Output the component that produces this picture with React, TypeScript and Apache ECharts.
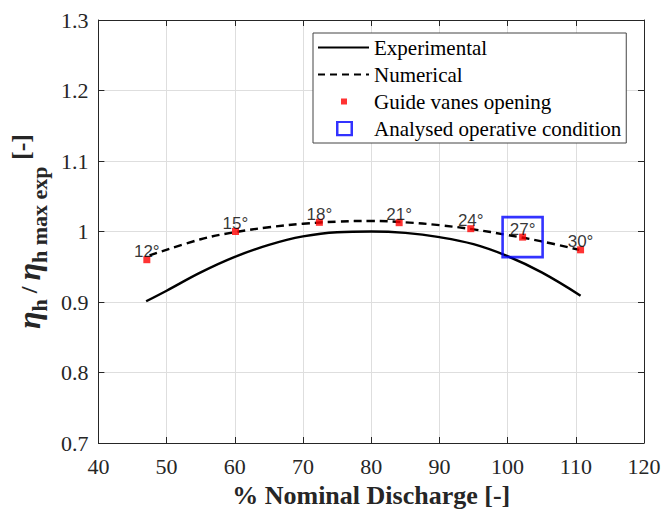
import React, { useEffect, useRef } from "react";
import * as echarts from "echarts";

const expX = [47, 50, 55, 60, 65, 70, 75, 80, 85, 90, 95, 100, 105, 110.7];
const expY = [0.901, 0.916, 0.942, 0.964, 0.981, 0.993, 0.999, 1.0, 0.998, 0.992, 0.982, 0.965, 0.942, 0.909];

const numX = [47.5, 55, 60, 65, 70, 75, 80, 85, 90, 95, 100, 105, 110.5];
const numY = [0.966, 0.989, 0.999, 1.006, 1.011, 1.014, 1.015, 1.013, 1.009, 1.003, 0.995, 0.986, 0.974];

const gvX = [47.1, 60.1, 72.4, 84.1, 94.6, 102.2, 110.7];
const gvY = [0.96, 1.0, 1.013, 1.0125, 1.004, 0.992, 0.974];
const gvLabels = ["12°", "15°", "18°", "21°", "24°", "27°", "30°"];

const opX = [102.2];
const opY = [0.992];

const xTicks = { min: 40, max: 120, interval: 10 };
const yTicks = { min: 0.7, max: 1.3, interval: 0.1 };

const SERIF = "Liberation Serif";
const SANS = "Liberation Sans";
const AX = "#262626";

const svgUri = (inner: string) =>
  "image://data:image/svg+xml;charset=utf-8," +
  encodeURIComponent(
    `<svg xmlns='http://www.w3.org/2000/svg' width='51' height='16' viewBox='0 0 51 16'>${inner}</svg>`
  );

const solidIcon = svgUri("<line x1='0' y1='8' x2='51' y2='8' stroke='#000' stroke-width='2.2'/>");
const dashIcon = svgUri(
  "<line x1='0' y1='8' x2='51' y2='8' stroke='#000' stroke-width='2.2' stroke-dasharray='7 5'/>"
);
const redIcon = svgUri("<rect x='23' y='5' width='6' height='6' fill='#ff0000'/>");
const blueIcon = svgUri(
  "<rect x='19.25' y='1.25' width='14.5' height='13.5' fill='none' stroke='#0000ff' stroke-width='2.5'/>"
);

export default function App() {
  const ref = useRef<HTMLDivElement>(null);
  useEffect(() => {
    if (!ref.current) return;
    const chart = echarts.init(ref.current, null, { renderer: "svg" });
    const axisCommon = {
      axisLine: { show: true, onZero: false, lineStyle: { color: AX, width: 1 } },
      axisTick: { show: true, inside: true, length: 6, lineStyle: { color: AX } },
    };
    const tickLabel = (margin: number) => ({
      fontFamily: SERIF,
      fontSize: 22,
      color: AX,
      margin,
    });
    const richBase = { fontFamily: SERIF, color: AX, lineHeight: 42 };
    chart.setOption({
      animation: false,
      backgroundColor: "#ffffff",
      textStyle: { fontFamily: SERIF },
      grid: { left: 92, right: 21, top: 20, bottom: 66, containLabel: false },
      legend: {
        orient: "vertical",
        left: 313,
        top: 33,
        padding: [4, 5, 4, 5],
        itemGap: 6,
        itemWidth: 51,
        itemHeight: 16,
        itemTextGap: 4,
        borderColor: "#444",
        borderWidth: 1,
        backgroundColor: "#ffffff",
        textStyle: { fontFamily: SERIF, fontSize: 21, color: "#000" },
        data: [
          { name: "Experimental", icon: solidIcon },
          { name: "Numerical", icon: dashIcon },
          { name: "Guide vanes opening", icon: redIcon },
          { name: "Analysed operative condition", icon: blueIcon },
        ],
      },
      xAxis: [
        {
          type: "value",
          position: "bottom",
          ...xTicks,
          ...axisCommon,
          axisLabel: tickLabel(12),
          splitLine: { show: true, lineStyle: { color: "#dedede", width: 1 } },
          name: "% Nominal Discharge [-]",
          nameLocation: "middle",
          nameGap: 39,
          nameTextStyle: { fontFamily: SERIF, fontWeight: "bold", fontSize: 26, color: AX },
        },
        {
          type: "value",
          position: "top",
          ...xTicks,
          ...axisCommon,
          axisLabel: { show: false },
          splitLine: { show: false },
        },
      ],
      yAxis: [
        {
          type: "value",
          position: "left",
          ...yTicks,
          ...axisCommon,
          axisLabel: tickLabel(10),
          splitLine: { show: true, lineStyle: { color: "#dedede", width: 1 } },
          name: "{eta|η}{sub|h}{sl| / }{eta|η}{sub|h max exp}{br| [-]}",
          nameLocation: "middle",
          nameRotate: 90,
          nameGap: 45,
          nameTextStyle: {
            fontFamily: SERIF,
            color: AX,
            rich: {
              eta: {
                ...richBase,
                fontSize: 32,
                fontStyle: "italic",
                fontWeight: "bold",
                verticalAlign: "middle",
              },
              sub: { ...richBase, fontSize: 22, fontWeight: "bold", verticalAlign: "bottom" },
              sl: { ...richBase, fontSize: 24, fontWeight: "bold", verticalAlign: "middle" },
              br: { ...richBase, fontSize: 26, fontWeight: "bold", verticalAlign: "top" },
            },
          },
        },
        {
          type: "value",
          position: "right",
          ...yTicks,
          ...axisCommon,
          axisLabel: { show: false },
          splitLine: { show: false },
        },
      ],
      series: [
        {
          name: "Experimental",
          type: "line",
          data: expX.map((x, i) => [x, expY[i]]),
          smooth: 0.4,
          symbol: "none",
          showSymbol: false,
          lineStyle: { color: "#000", width: 2.4, type: "solid" },
          itemStyle: { color: "#000" },
          z: 2,
        },
        {
          name: "Numerical",
          type: "line",
          data: numX.map((x, i) => [x, numY[i]]),
          smooth: 0.4,
          symbol: "none",
          showSymbol: false,
          lineStyle: { color: "#000", width: 2.4, type: [8, 5] },
          itemStyle: { color: "#000" },
          z: 2,
        },
        {
          name: "Guide vanes opening",
          type: "scatter",
          data: gvX.map((x, i) => [x, gvY[i]]),
          symbol: "rect",
          symbolSize: 7,
          itemStyle: { color: "#ff0000" },
          label: {
            show: true,
            position: "top",
            distance: 0,
            offset: [0, 4],
            fontFamily: SANS,
            fontSize: 17,
            color: "#000",
            formatter: (p: any) => gvLabels[p.dataIndex],
          },
          z: 3,
        },
        {
          name: "Analysed operative condition",
          type: "scatter",
          data: opX.map((x, i) => [x, opY[i]]),
          symbol: "rect",
          symbolSize: 40,
          itemStyle: { color: "rgba(0,0,0,0)", borderColor: "#0000ff", borderWidth: 2.6 },
          z: 4,
        },
      ],
    });
    return () => chart.dispose();
  }, []);
  return (
    <div
      ref={ref}
      style={{ position: "fixed", left: 0, top: 0, width: 665, height: 513, background: "#fff" }}
    />
  );
}
